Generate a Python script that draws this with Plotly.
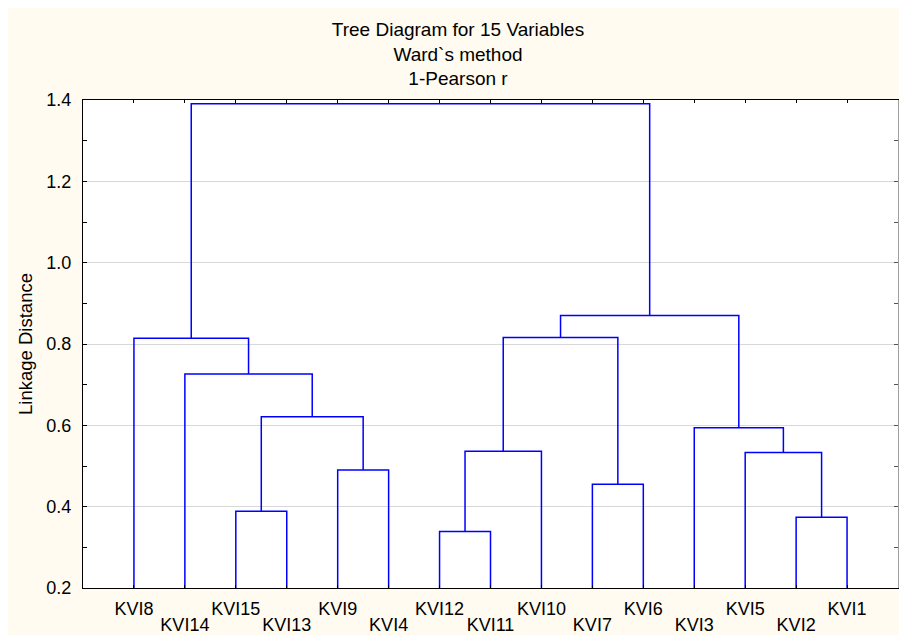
import plotly.graph_objects as go

# ---- data -------------------------------------------------------------
leaves = ["KVI8", "KVI14", "KVI15", "KVI13", "KVI9", "KVI4", "KVI12", "KVI11",
          "KVI10", "KVI7", "KVI6", "KVI3", "KVI5", "KVI2", "KVI1"]

# agglomeration steps: cluster C<k> is formed at step k (1-based)
merge_left = ["KVI12", "KVI2", "KVI15", "KVI7", "KVI9", "C1", "KVI5", "KVI3",
              "C3", "KVI14", "KVI8", "C6", "C12", "C11"]
merge_right = ["KVI11", "KVI1", "KVI13", "KVI6", "KVI4", "KVI10", "C2", "C7",
               "C5", "C9", "C10", "C4", "C8", "C13"]
merge_dist = [0.339, 0.374, 0.389, 0.455, 0.490, 0.536, 0.533, 0.594,
              0.621, 0.726, 0.814, 0.816, 0.870, 1.391]

y_ticks = [0.2, 0.4, 0.6, 0.8, 1.0, 1.2, 1.4]

title_lines = ["Tree Diagram for 15 Variables", "Ward`s method", "1-Pearson r"]
y_title = "Linkage Distance"

# ---- build dendrogram paths from the linkage --------------------------
pos = {name: i + 1 for i, name in enumerate(leaves)}
height = {name: 0.0 for name in leaves}
xs, ys = [], []
for k, (a, b, d) in enumerate(zip(merge_left, merge_right, merge_dist), start=1):
    xa, xb = pos[a], pos[b]
    xs += [xa, xa, xb, xb, None]
    ys += [height[a], d, d, height[b], None]
    cname = f"C{k}"
    pos[cname] = (xa + xb) / 2
    height[cname] = d

FONT = "Liberation Sans, Arial, sans-serif"
CREAM = "#FFFBF0"
leaf_x = list(range(1, len(leaves) + 1))

W, H = 899, 635
ML, MR, MT, MB = 83, 1, 100, 47
PW, PH = W - ML - MR, H - MT - MB

fig = go.Figure()
fig.add_trace(go.Scatter(x=xs, y=ys, mode="lines",
                         line=dict(color="#0000FF", width=1.5),
                         hoverinfo="skip", showlegend=False))
# invisible anchors for the helper axes (second label row, right border)
fig.add_trace(go.Scatter(x=[1], y=[0.2], xaxis="x2", yaxis="y", mode="markers",
                         marker=dict(opacity=0), hoverinfo="skip", showlegend=False))
fig.add_trace(go.Scatter(x=[1], y=[0.2], xaxis="x", yaxis="y2", mode="markers",
                         marker=dict(opacity=0), hoverinfo="skip", showlegend=False))

row1_vals = leaf_x[0::2]
row1_text = leaves[0::2]

LBL = 18
fig.update_layout(
    width=W, height=H, autosize=False,
    margin=dict(l=ML, r=MR, t=MT, b=MB, pad=0),
    paper_bgcolor=CREAM, plot_bgcolor="white",
    font=dict(family=FONT, color="black", size=17),
    title=dict(text="<br>".join(title_lines), x=458 / W, xanchor="center",
               xref="container", y=1 - 36 / H, yanchor="top", yref="container",
               font=dict(family=FONT, size=19, color="black")),
    xaxis=dict(range=[0, 16], tickvals=row1_vals, ticktext=row1_text,
               ticks="", showline=True, linecolor="black", linewidth=1,
               mirror=True, showgrid=False, zeroline=False,
               tickfont=dict(family=FONT, size=LBL, color="black"),
               ticklabelstandoff=4),
    xaxis2=dict(range=[0, 16], overlaying="x", side="bottom", anchor="y",
                tickvals=leaf_x,
                ticktext=["" if i % 2 == 0 else lab for i, lab in enumerate(leaves)],
                ticks="inside", ticklen=3, tickcolor="black",
                showline=False, mirror="ticks", showgrid=False, zeroline=False,
                tickfont=dict(family=FONT, size=LBL, color="black"),
                ticklabelstandoff=24),
    yaxis=dict(range=[0.2, 1.4], tickvals=y_ticks,
               ticktext=[f"{v:.1f}" for v in y_ticks],
               ticks="inside", ticklen=4, tickcolor="black",
               showline=True, linecolor="black", linewidth=1, mirror=False,
               showgrid=True, gridcolor="#D8D8D8", gridwidth=1, zeroline=False,
               minor=dict(dtick=0.1, ticks="inside", ticklen=4,
                          tickcolor="black", showgrid=False),
               tickfont=dict(family=FONT, size=LBL, color="black"),
               ticklabelstandoff=7,
               title=dict(text=y_title, standoff=8,
                          font=dict(family=FONT, size=18.5, color="black"))),
    yaxis2=dict(range=[0.2, 1.4], overlaying="y", side="right", anchor="x",
                tickvals=y_ticks, ticks="inside", ticklen=4, tickcolor="#555555",
                showline=True, linecolor="#A0A0A0", linewidth=1,
                showticklabels=False, showgrid=False, zeroline=False,
                minor=dict(dtick=0.1, ticks="inside", ticklen=4,
                           tickcolor="#555555", showgrid=False)),
    shapes=[
        # thin white frame along the top and left edges of the picture
        dict(type="rect", xref="paper", yref="paper", layer="below",
             x0=-ML / PW - 0.01, x1=1 + MR / PW + 0.01,
             y0=(PH + MT - 8) / PH, y1=(PH + MT) / PH + 0.01,
             fillcolor="white", line=dict(width=0)),
        dict(type="rect", xref="paper", yref="paper", layer="below",
             x0=-ML / PW - 0.01, x1=(8 - ML) / PW,
             y0=-MB / PH - 0.01, y1=(PH + MT) / PH + 0.01,
             fillcolor="white", line=dict(width=0)),
    ],
)

fig.write_html(
    "out.html",
    config={"displayModeBar": False},
    post_script="document.body.style.margin='0';"
                "document.documentElement.style.overflow='hidden';"
                "document.body.style.overflow='hidden';",
)
